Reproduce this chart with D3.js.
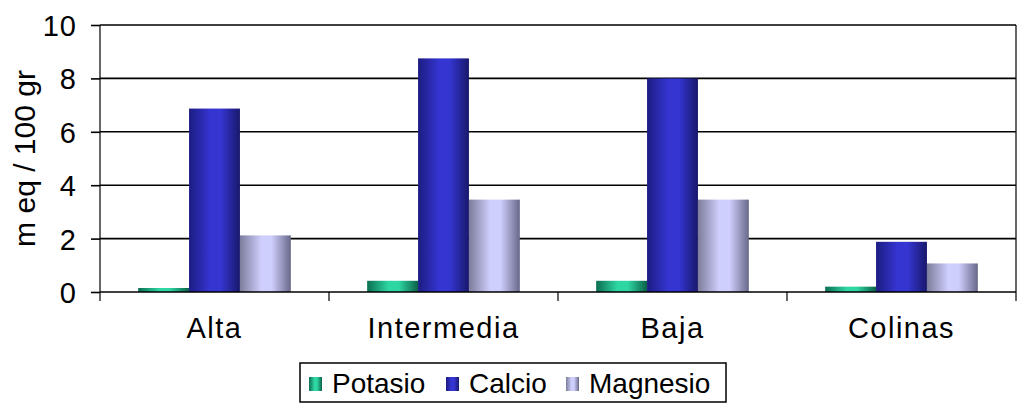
<html>
<head>
<meta charset="utf-8">
<style>
    body { margin: 0; background: #fff; }
    text { font-family: "Liberation Sans", Arial, sans-serif; fill: #000; }
</style>
<script src="https://cdn.jsdelivr.net/npm/d3@7"></script>
</head>
<body>
<script>
    // data
    var categories = ["Alta", "Intermedia", "Baja", "Colinas"];
    var series = ["Potasio", "Calcio", "Magnesio"];
    var potasio = [0.15, 0.42, 0.42, 0.2];
    var calcio = [6.87, 8.75, 8.0, 1.88];
    var magnesio = [2.12, 3.46, 3.46, 1.07];
    var yTicks = [0, 2, 4, 6, 8, 10];

    var values = {"Potasio": potasio, "Calcio": calcio, "Magnesio": magnesio};

    // gradient stops: edge, highlight, far edge
    var shades = {
        "Potasio": ["#0b6e52", "#2ed6a2", "#0a6148"],
        "Calcio": ["#1c1c82", "#3535d2", "#18186c"],
        "Magnesio": ["#7c7c9c", "#cfcffd", "#68688a"]
    };

    var width = 1021, height = 413;
    var margin = {top: 25, left: 100, right: 5, bottom: 122};

    var svg = d3.select("body").append("svg")
        .attr("width", width)
        .attr("height", height);

    var defs = svg.append("defs");
    series.forEach(function (s) {
        var g = defs.append("linearGradient")
            .attr("id", "grad-" + s)
            .attr("x1", "0%").attr("x2", "100%")
            .attr("y1", "0%").attr("y2", "0%");
        g.append("stop").attr("offset", "0%").attr("stop-color", shades[s][0]);
        g.append("stop").attr("offset", "42%").attr("stop-color", shades[s][1]);
        g.append("stop").attr("offset", "62%").attr("stop-color", shades[s][1]);
        g.append("stop").attr("offset", "100%").attr("stop-color", shades[s][2]);
    });

    var x0 = d3.scaleBand()
        .domain(categories)
        .range([margin.left, width - margin.right]);

    var x1 = d3.scaleBand()
        .domain(series)
        .range([0, x0.bandwidth()])
        .paddingInner(0)
        .paddingOuter(0.75);

    var y = d3.scaleLinear()
        .domain([0, 10])
        .range([height - margin.bottom + 1, margin.top]);

    var plotRight = width - margin.right;

    // gridlines
    svg.append("g")
        .selectAll("line")
        .data(yTicks.filter(function (d) { return d > 0; }))
        .enter()
        .append("line")
        .attr("x1", margin.left)
        .attr("x2", plotRight)
        .attr("y1", function (d) { return y(d); })
        .attr("y2", function (d) { return y(d); })
        .attr("stroke", "#000")
        .attr("stroke-width", 1.6);

    // right border
    svg.append("line")
        .attr("x1", plotRight).attr("x2", plotRight)
        .attr("y1", y(10)).attr("y2", y(0) + 9)
        .attr("stroke", "#000").attr("stroke-width", 1.2);

    // bars
    var groups = svg.append("g")
        .selectAll("g")
        .data(categories)
        .enter()
        .append("g")
        .attr("transform", function (d) { return "translate(" + x0(d) + ",0)"; });

    groups.selectAll("rect")
        .data(function (d, i) {
            return series.map(function (s) { return {key: s, value: values[s][i]}; });
        })
        .enter()
        .append("rect")
        .attr("x", function (d) { return x1(d.key); })
        .attr("width", x1.bandwidth())
        .attr("y", function (d) { return y(d.value); })
        .attr("height", function (d) { return y(0) - y(d.value); })
        .attr("fill", function (d) { return "url(#grad-" + d.key + ")"; });

    // y axis
    var yAxis = svg.append("g")
        .attr("transform", "translate(" + margin.left + ",0)")
        .call(d3.axisLeft(y).tickValues(yTicks).tickSize(9).tickPadding(14));
    yAxis.select(".domain").remove();
    yAxis.selectAll(".tick line").attr("stroke", "#000").attr("stroke-width", 1.6);
    yAxis.selectAll("text")
        .style("font-size", "29px")
        .style("letter-spacing", "1px")
        .attr("dy", "0.36em");
    yAxis.append("line")
        .attr("x1", 0).attr("x2", 0)
        .attr("y1", y(10)).attr("y2", y(0) + 9)
        .attr("stroke", "#000").attr("stroke-width", 1.2);

    // x axis
    var xAxis = svg.append("g")
        .attr("transform", "translate(0," + y(0) + ")")
        .call(d3.axisBottom(x0).tickSize(0));
    xAxis.select(".domain").remove();
    xAxis.append("line")
        .attr("x1", margin.left).attr("x2", plotRight)
        .attr("stroke", "#000").attr("stroke-width", 1.6);
    xAxis.selectAll(".sep")
        .data(categories.slice(1))
        .enter()
        .append("line")
        .attr("class", "sep")
        .attr("x1", function (d) { return x0(d); })
        .attr("x2", function (d) { return x0(d); })
        .attr("y1", 0).attr("y2", 9)
        .attr("stroke", "#000").attr("stroke-width", 1.2);
    xAxis.selectAll(".tick text")
        .attr("y", 46)
        .attr("dy", "0")
        .style("font-size", "29px")
        .style("letter-spacing", "1.5px");

    // y axis title
    svg.append("text")
        .attr("transform", "translate(35," + (y(0) + y(10)) / 2 + ") rotate(-90)")
        .attr("text-anchor", "middle")
        .style("font-size", "30px")
        .text("m eq / 100 gr");

    // legend
    var legend = svg.append("g");
    legend.append("rect")
        .attr("x", 300).attr("y", 363)
        .attr("width", 426).attr("height", 39)
        .attr("fill", "#fff")
        .attr("stroke", "#000")
        .attr("stroke-width", 1.5);

    var legendX = [309, 446, 566];
    var items = legend.selectAll(".item")
        .data(series)
        .enter()
        .append("g")
        .attr("class", "item")
        .attr("transform", function (d, i) { return "translate(" + legendX[i] + ",377)"; });

    items.append("rect")
        .attr("width", 13).attr("height", 14)
        .attr("fill", function (d) { return "url(#grad-" + d + ")"; });

    items.append("text")
        .attr("x", 23)
        .attr("y", 16)
        .style("font-size", "28px")
        .text(function (d) { return d; });
</script>
</body>
</html>
